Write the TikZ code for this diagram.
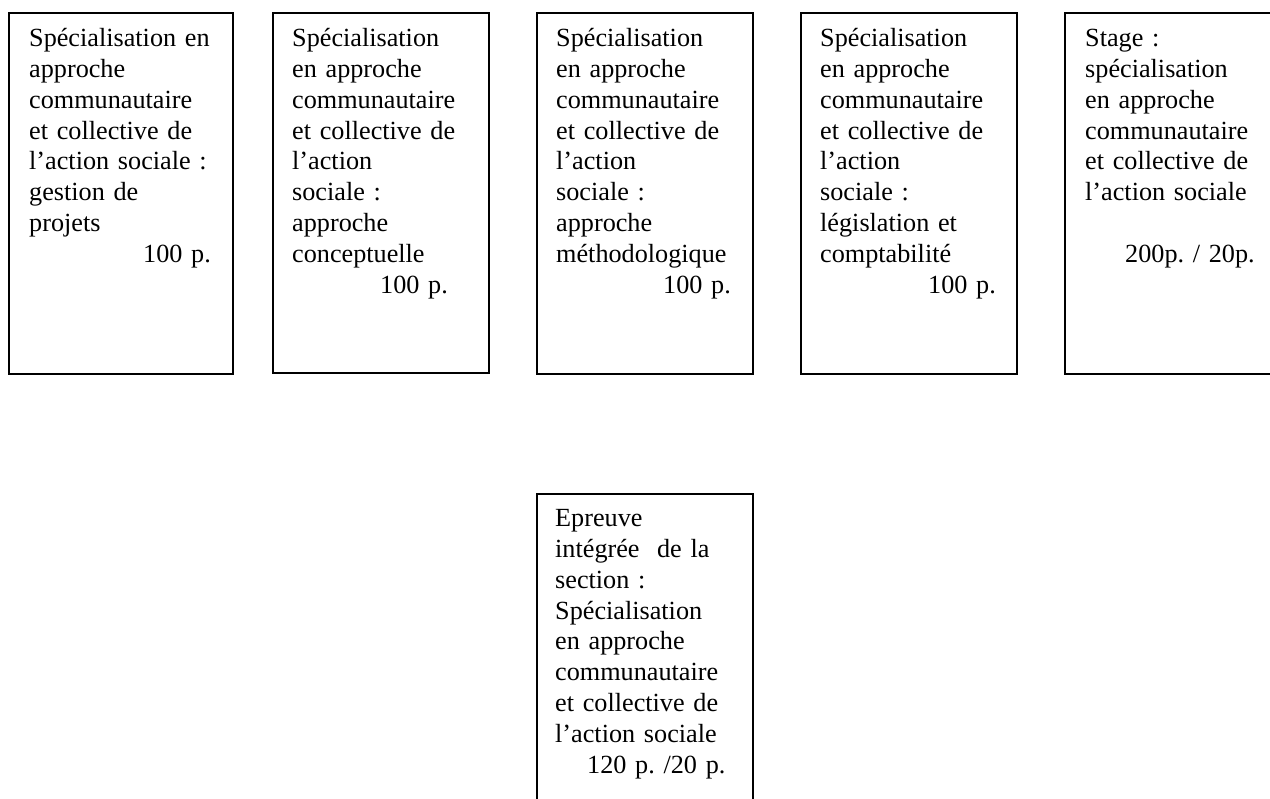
\documentclass[tikz,border=0pt]{standalone}
\usepackage{fontspec}
\setmainfont{Liberation Serif}
\frenchspacing
\begin{document}
\begin{tikzpicture}[x=1pt,y=-1pt,
  box/.style={draw=black,line width=2pt,anchor=north west,inner sep=0pt,minimum width=#1},
  box/.default=216pt,
  txt/.style={anchor=base west,inner sep=0pt,text width=205pt,align=left,
    font=\fontsize{26.2pt}{30.8pt}\selectfont\frenchspacing}]
\useasboundingbox (0,0) rectangle (1270,799);
% boxes
\node[box=224pt,minimum height=361pt] (b1) at (8,12) {};
\node[box,minimum height=360pt] (b2) at (272,12) {};
\node[box,minimum height=361pt] (b3) at (536,12) {};
\node[box,minimum height=361pt] (b4) at (800,12) {};
\node[box=240pt,minimum height=361pt] (b5) at (1064,12) {};
\node[box,minimum height=330pt] (b6) at (536,493) {};
% texts
\node[txt] (t1) at (29,46.7) {Spécialisation en\\approche\\communautaire\\et collective de\\l’action sociale :\\gestion de\\projets\\\hspace*{114pt}100 p.};
\node[txt] (t2) at (292,46.7) {Spécialisation\\en approche\\communautaire\\et collective de\\l’action\\sociale :\\approche\\conceptuelle\\\hspace*{88pt}100 p.};
\node[txt] (t3) at (556,46.7) {Spécialisation\\en approche\\communautaire\\et collective de\\l’action\\sociale :\\approche\\méthodologique\\\hspace*{107pt}100 p.};
\node[txt] (t4) at (820,46.7) {Spécialisation\\en approche\\communautaire\\et collective de\\l’action\\sociale :\\législation et\\comptabilité\\\hspace*{108pt}100 p.};
\node[txt] (t5) at (1085,46.7) {Stage :\\spécialisation\\en approche\\communautaire\\et collective de\\l’action sociale\\[30.8pt]\hspace*{40pt}200p. / 20p.};
\node[txt] (t6) at (555,526.7) {Epreuve\\intégrée\ \ de la\\section :\\Spécialisation\\en approche\\communautaire\\et collective de\\l’action sociale\\\hspace*{32pt}120 p. /20 p.};
\end{tikzpicture}
\end{document}
